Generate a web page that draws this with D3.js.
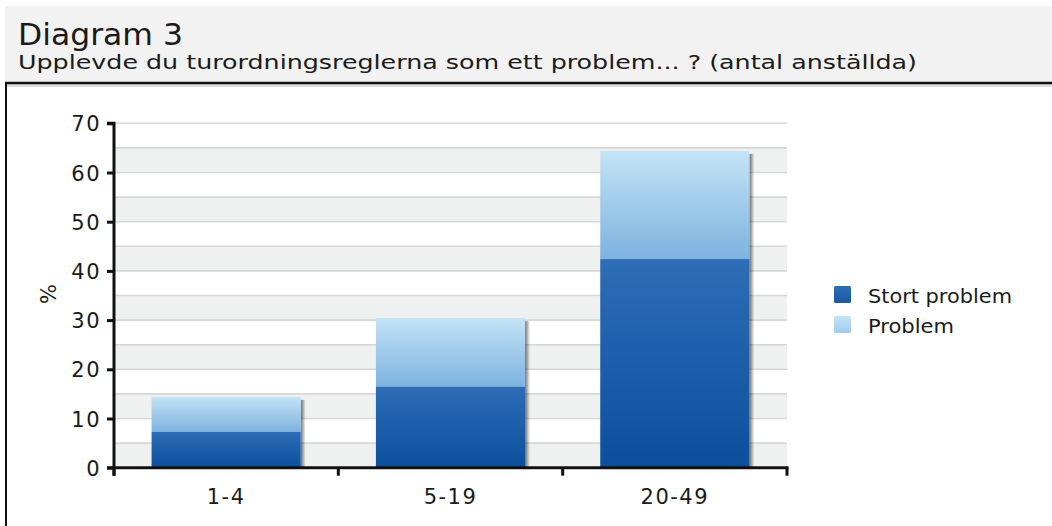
<!DOCTYPE html>
<html><head><meta charset="utf-8">
<script src="https://cdn.jsdelivr.net/npm/d3@7"></script>
<style>
html,body{margin:0;padding:0;background:#fff;}
svg{display:block;}
text{font-family:"DejaVu Sans",sans-serif;fill:#1a1a1a;}
</style></head>
<body>
<svg id="c" width="1052" height="526"></svg>
<script>
const categories = ["1-4", "5-19", "20-49"];
const stortProblem = [7.3, 16.5, 42.4];
const problem = [7.1, 13.9, 22.0];
const seriesNames = ["Stort problem", "Problem"];
const yTicks = [0, 10, 20, 30, 40, 50, 60, 70];
const titleText = "Diagram 3";
const subtitleText = "Upplevde du turordningsreglerna som ett problem... ? (antal anställda)";
const yLabel = "%";

const svg = d3.select("#c");
const defs = svg.append("defs");
function vgrad(id, c1, c2){
  const g = defs.append("linearGradient").attr("id", id).attr("x1",0).attr("y1",0).attr("x2",0).attr("y2",1);
  g.append("stop").attr("offset","0%").attr("stop-color",c1);
  g.append("stop").attr("offset","100%").attr("stop-color",c2);
}
vgrad("gStort", "#2d6db6", "#0b4f9d");
vgrad("gProb", "#c4e3f6", "#7cb3df");
vgrad("gLegS", "#2d6db6", "#1a58a5");
vgrad("gLegP", "#c4e3f6", "#9fcaec");
const sh = defs.append("linearGradient").attr("id","gShadow").attr("x1",0).attr("y1",0).attr("x2",1).attr("y2",0);
sh.append("stop").attr("offset","0%").attr("stop-color","#000").attr("stop-opacity",0.55);
sh.append("stop").attr("offset","100%").attr("stop-color","#000").attr("stop-opacity",0);

// header
svg.append("rect").attr("x",5).attr("y",6).attr("width",1047).attr("height",76).attr("fill","#f2f2f2");
svg.append("rect").attr("x",5).attr("y",84).attr("width",1047).attr("height",3).attr("fill","#dcdcdc");
svg.append("line").attr("x1",5).attr("x2",1052).attr("y1",83).attr("y2",83).attr("stroke","#111").attr("stroke-width",2.5);
svg.append("line").attr("x1",6).attr("x2",6).attr("y1",82).attr("y2",526).attr("stroke","#111").attr("stroke-width",2);

function fit(sel, w){
  sel.attr("textLength", w).attr("lengthAdjust", "spacingAndGlyphs");
}
const t1 = svg.append("text").attr("x",18).attr("y",45).attr("font-size",30).text(titleText);
fit(t1, 165);
const t2 = svg.append("text").attr("x",18).attr("y",68.5).attr("font-size",20).text(subtitleText);
fit(t2, 899);

// scales
const x0 = 114, x1 = 787;
const x = d3.scaleBand().domain(categories).range([x0, x1]).paddingInner(0).paddingOuter(0);
const y = d3.scaleLinear().domain([0, 70]).range([467.7, 123.3]);

const g = svg.append("g");
const bandStarts = d3.range(0, 70, 10);
g.selectAll("rect.band").data(bandStarts).join("rect")
  .attr("x", x0).attr("width", x1 - x0)
  .attr("y", d => y(d + 5)).attr("height", d => y(d) - y(d + 5))
  .attr("fill", "#eff0f0");
const grid = d3.range(5, 75, 5);
g.selectAll("line.grid").data(grid).join("line")
  .attr("x1", x0).attr("x2", x1).attr("y1", d => y(d)).attr("y2", d => y(d))
  .attr("stroke", "#d6d7d7").attr("stroke-width", 1.6);

// bars
const bw = x.bandwidth() * 0.665;
const bx = c => x(c) + (x.bandwidth() - bw) / 2;
const data = categories.map((c, i) => ({c, s: stortProblem[i], p: problem[i]}));
g.selectAll("rect.shadow").data(data).join("rect")
  .attr("x", d => bx(d.c) + bw).attr("width", 5)
  .attr("y", d => y(d.s + d.p) + 3).attr("height", d => y(0) - y(d.s + d.p) - 3)
  .attr("fill", "url(#gShadow)");
g.selectAll("rect.prob").data(data).join("rect")
  .attr("x", d => bx(d.c)).attr("width", bw)
  .attr("y", d => y(d.s + d.p)).attr("height", d => y(d.s) - y(d.s + d.p))
  .attr("fill", "url(#gProb)");
g.selectAll("rect.stort").data(data).join("rect")
  .attr("x", d => bx(d.c)).attr("width", bw)
  .attr("y", d => y(d.s)).attr("height", d => y(0) - y(d.s))
  .attr("fill", "url(#gStort)");

// axes
const yAxis = d3.axisLeft(y).tickValues(yTicks).tickSize(7).tickPadding(6);
const ya = svg.append("g").attr("transform", `translate(${x0},0)`).call(yAxis);
ya.select(".domain").attr("stroke", "#111").attr("stroke-width", 3).attr("d", `M-7,${y(70)}H0V${y(0)+8}`);
ya.selectAll(".tick line").attr("stroke", "#111").attr("stroke-width", 3);
ya.selectAll(".tick text").attr("font-size", 21).attr("font-family", "DejaVu Sans").attr("fill", "#1a1a1a")
  .attr("dy", "0.36em").attr("letter-spacing", 1.5);

const xa = svg.append("g").attr("transform", `translate(0,${y(0)})`);
xa.append("line").attr("x1", x0 - 7).attr("x2", x1 + 1.5).attr("y1", 0).attr("y2", 0).attr("stroke", "#111").attr("stroke-width", 3);
const xt = categories.map(c => x(c)).concat([x1]);
xa.selectAll("line.xt").data(xt).join("line")
  .attr("x1", d => d).attr("x2", d => d).attr("y1", 0).attr("y2", 8)
  .attr("stroke", "#111").attr("stroke-width", 3);
xa.selectAll("text.xl").data(categories).join("text")
  .attr("x", c => x(c) + x.bandwidth() / 2).attr("y", 36)
  .attr("text-anchor", "middle").attr("font-size", 21).attr("letter-spacing", 1.5).text(c => c);

svg.append("text").attr("transform", "translate(56,294) rotate(-90)")
  .attr("text-anchor", "middle").attr("font-size", 21).text(yLabel);

// legend
const leg = svg.append("g");
const legFill = ["url(#gLegS)", "url(#gLegP)"];
const legW = [144, 86];
seriesNames.forEach((n, i) => {
  leg.append("rect").attr("x", 834).attr("y", 286 + i * 30).attr("width", 17).attr("height", 17)
    .attr("rx", 1.5).attr("fill", legFill[i]);
  const t = leg.append("text").attr("x", 868).attr("y", 303 + i * 30).attr("font-size", 20).text(n);
  fit(t, legW[i]);
});
</script>
</body></html>
